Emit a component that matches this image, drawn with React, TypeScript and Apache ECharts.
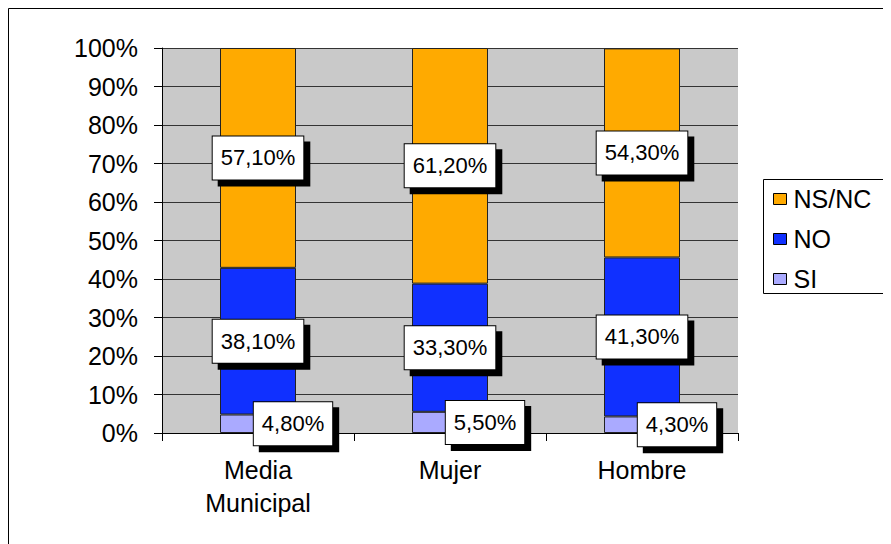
import React, { useEffect, useRef } from "react";
import * as echarts from "echarts";

const categories = ["Media\nMunicipal", "Mujer", "Hombre"];
const siValues = [4.8, 5.5, 4.3];
const noValues = [38.1, 33.3, 41.3];
const nsncValues = [57.1, 61.2, 54.3];
const legendNames = ["NS/NC", "NO", "SI"];

const FONT = 'Arial, "Liberation Sans", sans-serif';

const fmt = (v: number) => v.toFixed(2).replace(".", ",") + "%";

const labelBox = (offset: number[]) => ({
  show: true,
  position: "inside",
  offset,
  formatter: (p: any) => fmt(p.value),
  color: "#000",
  fontFamily: FONT,
  fontSize: 22,
  lineHeight: 25,
  backgroundColor: "#fff",
  borderColor: "#000",
  borderWidth: 1,
  padding: [9, 8, 9, 8],
  shadowColor: "#000",
  shadowBlur: 0,
  shadowOffsetX: 6,
  shadowOffsetY: 6,
});

export default function App() {
  const ref = useRef<HTMLDivElement>(null);
  useEffect(() => {
    if (!ref.current) return;
    const chart = echarts.init(ref.current, undefined, { renderer: "svg" });
    const barCommon = {
      type: "bar",
      stack: "total",
      barWidth: 76,
      itemStyle: { borderColor: "#222", borderWidth: 1 },
    };
    chart.setOption({
      animation: false,
      backgroundColor: "#fff",
      graphic: [
        {
          type: "rect",
          shape: { x: 0.5, y: 0.5, width: 1000, height: 1000 },
          style: { fill: "none", stroke: "#000", lineWidth: 1 },
          silent: true,
        },
        {
          type: "rect",
          shape: { x: 755.5, y: 171.5, width: 300, height: 114 },
          style: { fill: "#fff", stroke: "#000", lineWidth: 1 },
          silent: true,
          z: -1,
        },
      ],
      grid: {
        left: 154,
        top: 40,
        width: 576,
        height: 385,
        show: true,
        backgroundColor: "#c9c9c9",
        borderWidth: 0,
      },
      legend: {
        data: legendNames,
        orient: "vertical",
        left: 765,
        top: 177,
        padding: 0,
        itemGap: 12,
        itemWidth: 13,
        itemHeight: 11,
        icon: "rect",
        textStyle: {
          fontFamily: FONT,
          fontSize: 25,
          lineHeight: 28,
          color: "#000",
          padding: [0, 0, 0, 2],
        },
        itemStyle: { borderColor: "#000", borderWidth: 1 },
      },
      xAxis: {
        type: "category",
        data: categories,
        axisLine: { lineStyle: { color: "#000", width: 1 } },
        axisTick: { show: true, length: 8, lineStyle: { color: "#000" } },
        axisLabel: {
          fontFamily: FONT,
          fontSize: 25,
          lineHeight: 33,
          color: "#000",
          margin: 20,
        },
      },
      yAxis: {
        type: "value",
        min: 0,
        max: 100,
        interval: 10,
        axisLine: { show: true, lineStyle: { color: "#000", width: 1 } },
        axisTick: { show: true, length: 8, lineStyle: { color: "#000" } },
        splitLine: { show: true, lineStyle: { color: "#333", width: 1 } },
        axisLabel: {
          formatter: "{value}%",
          fontFamily: FONT,
          fontSize: 25,
          color: "#000",
          margin: 24,
        },
      },
      series: [
        {
          ...barCommon,
          name: "SI",
          data: siValues,
          itemStyle: { ...barCommon.itemStyle, color: "#aaaaff" },
          label: labelBox([35, 0]),
        },
        {
          ...barCommon,
          name: "NO",
          data: noValues,
          itemStyle: { ...barCommon.itemStyle, color: "#1030ff" },
          label: labelBox([0, 0]),
        },
        {
          ...barCommon,
          name: "NS/NC",
          data: nsncValues,
          itemStyle: { ...barCommon.itemStyle, color: "#ffaa00" },
          label: labelBox([0, 0]),
        },
      ],
    });
    return () => chart.dispose();
  }, []);
  return <div ref={ref} style={{ width: 883, height: 536 }} />;
}
